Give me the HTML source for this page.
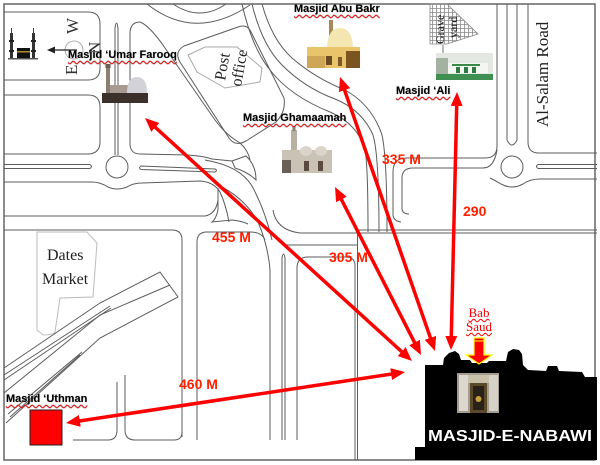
<!DOCTYPE html>
<html><head><meta charset="utf-8">
<style>
html,body{margin:0;padding:0;background:#fff;}
#w{position:relative;width:600px;height:465px;overflow:hidden;background:#fff;}
svg{position:absolute;left:0;top:0;}
.l{position:absolute;font:bold 11px "Liberation Sans",Arial,sans-serif;color:#000;line-height:13px;white-space:nowrap;text-decoration:underline wavy #e41010;text-decoration-thickness:1px;text-underline-offset:2px;text-shadow:0 0 1px #888;}
.b{position:absolute;font:13px "Liberation Serif",serif;color:#e00;line-height:14px;white-space:nowrap;text-decoration:underline wavy #e00;text-decoration-thickness:1px;width:40px;text-align:center;}
</style></head><body><div id="w">
<svg width="600" height="465" viewBox="0 0 600 465" xmlns="http://www.w3.org/2000/svg">
<defs>
<marker id="ah" viewBox="0 0 14 12" refX="4" refY="6" markerWidth="14" markerHeight="12" markerUnits="userSpaceOnUse" orient="auto-start-reverse"><path d="M0,0 L14,6 L0,12 Z" fill="#f00"/></marker>
<pattern id="hatch" width="4" height="4" patternUnits="userSpaceOnUse"><rect width="4" height="4" fill="#fff"/><path d="M0,0.5 H4 M0.5,0 V4" stroke="#8a8a8a" stroke-width="0.8"/></pattern>
</defs>
<rect width="600" height="465" fill="#fff"/>
<g fill="none" stroke="#5c5c5c" stroke-width="1">
<rect x="4" y="4" width="591" height="456" stroke="#666" stroke-width="1.5"/>
<path d="M4,12 H88 Q100,12 100,24 V68 Q100,80 88,80 H4"/>
<path d="M4,95 H88 Q100,95 100,107 V142 Q100,153 89,154 H4"/>
<path d="M4,164.5 H90 Q93,166.5 90,168.5 H4"/>
<circle cx="117" cy="167" r="11"/>
<path d="M115,155 V28 Q116.5,18 118,28 V155"/>
<path d="M4,182 H92 Q100,182 108,187 Q117,191 127,187 Q133,183 142,183 L200,181 Q214,182 220,192 Q226,205 229,222"/>
<path d="M141,166 L215,169 Q218,170.5 215,172 L141,169.5 Q138,167.8 141,166"/>
<path d="M140,22 Q130,22 130,34 V145 Q131,154 140,154 L187,155 Q203,156 212,159 L232,161"/>
<path d="M140,22 Q150,26 165,48 L215,120 Q226,135 240,143 Q248,150 250,160"/>
<path d="M147,4 Q195,42 250,5"/>
<path d="M173,4 Q200,22 226,4"/>
<path d="M180,62 L229,138 Q235,147 246,141 L276,122 Q286,112 284,98 L264,58 L250,30 Q246,24 238,27 L184,46 Q174,52 180,62 Z"/>
<path d="M188,55 L205,47 L237,47 L262,68 L260,82 L225,88 L197,72 Z" stroke="#aaa"/>
<path d="M242,4 Q252,48 270,70 Q290,96 330,112 Q358,124 365,150 Q368,165 368,232"/>
<path d="M252,4 Q262,45 282,65 Q305,88 335,99 Q362,110 373,135 Q379,155 379,232"/>
<path d="M262,4 Q272,40 292,58 Q315,78 345,90 Q372,105 382,135 Q387,158 387,232"/>
<path d="M232,161 L246,156 Q256,165 256,180 Q248,172 235,168 Z"/>
<path d="M218,190 L218,210 Q216,219 212,222 L232,220 Q242,221 248,224"/>
<path d="M218,185 Q245,198 258,222 Q268,245 270,270 V440"/>
<path d="M205,160 Q240,166 252,186 Q265,210 272,240"/>
<path d="M282,440 V258 Q283.5,250 285,258 V440"/>
<path d="M297,440 V268 Q297,257 308,257 H346 Q355,257 355,266 V460"/>
<path d="M357.5,233 V460"/>
<path d="M273,210 Q276,230 300,233 H597"/>
<path d="M357,230 H597"/>
<path d="M285,245 H357"/>
<path d="M197,440 V242 Q197,232 207,232 H250 Q262,232 265,240"/>
<path d="M4,216 H205 Q216,214 218,200 V188"/>
<path d="M4,230 H172 Q182,230 182,240 V437"/>
<path d="M73,440 H108 Q117,440 117,430 V382"/>
<path d="M125,375 V430 Q125,440 135,440 H174 Q182,440 182,432"/>
<path d="M37,232 H87 L97,243 L93,297 L60,298 L55,332 Q53,335 43,335 L37,330 Z" stroke="#bbb"/>
<path d="M4,368 L100,303 L160,272 L178,297 L100,338 L6,423"/>
<path d="M170,285 L100,315 L4,393"/>
<path d="M4,375 L110,306 M4,380 L111,308"/>
<path d="M8,414 L82,352 M10,417 L80,355"/>
<path d="M497,4 V146 Q497,158 485,158 H407 Q393,158 393,172 V214 Q393,221 401,222"/>
<path d="M497,150 Q494,168 483,168 H413 Q402,168 402,178 V208 Q402,214 409,214"/>
<path d="M507,4 V140 Q512,150 517,140 V4"/>
<path d="M528,4 V142 Q528,153 539,153 H597"/>
<circle cx="512" cy="167" r="11"/>
<path d="M597,164.5 H538 Q535,166.5 538,168.5 H597"/>
<path d="M597,179 H540 Q530,179 523,184 Q512,190 501,184 Q496,181 490,178"/>
<path d="M443,45 V63" stroke="#777"/>
</g>

<!-- Grave yard -->
<path d="M430,4 H447 L478,34 L447,44 H430 Z" fill="url(#hatch)" stroke="#888" stroke-width="0.8"/>
<text transform="translate(444,44) rotate(-90)" font-family="Liberation Serif, serif" font-size="12" fill="#111">Grave</text>
<text transform="translate(457,38) rotate(-90)" font-family="Liberation Serif, serif" font-size="12" fill="#111">yard</text>

<!-- Kaaba icon -->
<g>
<rect x="10" y="33" width="3" height="26" fill="#333"/>
<rect x="9" y="40" width="5" height="2" fill="#222"/>
<rect x="9" y="50" width="5" height="2" fill="#222"/>
<rect x="11" y="28" width="1" height="6" fill="#444"/>
<rect x="32" y="33" width="3" height="26" fill="#333"/>
<rect x="31" y="40" width="5" height="2" fill="#222"/>
<rect x="31" y="50" width="5" height="2" fill="#222"/>
<rect x="33" y="28" width="1" height="6" fill="#444"/>
<rect x="17" y="48" width="13" height="11" fill="#111"/>
<rect x="17" y="51" width="13" height="1.5" fill="#b08a30"/>
<rect x="8" y="58" width="30" height="1.5" fill="#555"/>
</g>
<!-- compass -->
<circle cx="74" cy="50" r="9" fill="none" stroke="#999" stroke-width="0.8"/>
<path d="M54,50 H77" stroke="#222" stroke-width="1.3"/>
<polygon points="47,50 55,46.5 55,53.5" fill="#222"/>
<text transform="translate(78,34) rotate(-90)" font-family="Liberation Serif, serif" font-size="17" fill="#333">W</text>
<text transform="translate(77,75) rotate(-90)" font-family="Liberation Serif, serif" font-size="17" fill="#333">E</text>
<text transform="translate(100,54) rotate(-90)" font-family="Liberation Serif, serif" font-size="17" fill="#333">N</text>

<!-- Post office / Dates Market / Al-Salam -->
<text transform="translate(225,81) rotate(-80)" font-family="Liberation Serif, serif" font-size="16" fill="#222">Post</text>
<text transform="translate(241,87) rotate(-80)" font-family="Liberation Serif, serif" font-size="16" fill="#222">office</text>
<text x="47" y="260" font-family="Liberation Serif, serif" font-size="16" fill="#222">Dates</text>
<text x="42" y="284" font-family="Liberation Serif, serif" font-size="16" fill="#222">Market</text>
<text transform="translate(548,127) rotate(-90)" font-family="Liberation Serif, serif" font-size="17" fill="#222">Al-Salam Road</text>

<!-- Umar Farooq image -->
<rect x="106" y="68" width="4" height="27" fill="#8c7f72"/>
<rect x="105.5" y="64" width="5" height="4" fill="#6a5e55"/>
<rect x="110" y="85" width="20" height="9" fill="#a89a90"/>
<path d="M127,93 Q127,77 137,77 Q147,77 147,93 Z" fill="#d2d2d8"/>
<rect x="102" y="93" width="46" height="10" fill="#3b302a"/>

<!-- Abu Bakr image -->
<rect x="329" y="20" width="4" height="22" fill="#a88858"/>
<path d="M327,50 Q327,28 340,28 Q353,28 353,50 Z" fill="#f3e6b0"/>
<rect x="307" y="47" width="53" height="21" fill="#e9c46a"/>
<rect x="307" y="56" width="18" height="12" fill="#cfa655"/>
<rect x="326" y="56" width="6" height="9" fill="#6a4a20"/>
<rect x="338" y="57" width="4" height="9" fill="#7a5a28"/>
<rect x="346" y="51" width="14" height="17" fill="#7a5520"/>

<!-- Ghamaamah image -->
<rect x="291" y="130" width="6" height="35" fill="#b8b0a2"/>
<rect x="292.5" y="126" width="3" height="5" fill="#8a8070"/>
<rect x="282" y="150" width="50" height="23" fill="#c9c2b5"/>
<ellipse cx="306" cy="151" rx="6" ry="5" fill="#dad4ca"/>
<ellipse cx="321" cy="151" rx="6" ry="5" fill="#dad4ca"/>
<rect x="282" y="160" width="9" height="13" fill="#6a6058"/>
<rect x="304" y="161" width="5" height="10" fill="#5a4a40"/>
<rect x="318" y="161" width="5" height="10" fill="#5a4a40"/>

<!-- Ali image -->
<rect x="436" y="53" width="57" height="27" fill="#e4e8e2"/>
<rect x="436" y="58" width="12" height="16" fill="#a4b2a2"/>
<rect x="448" y="63" width="40" height="10" fill="#f4f6f2"/>
<rect x="452" y="64" width="28" height="2" fill="#3a8a4a"/>
<rect x="456" y="67" width="4" height="6" fill="#2f7a40"/>
<rect x="464" y="67" width="4" height="6" fill="#2f7a40"/>
<rect x="472" y="67" width="4" height="6" fill="#2f7a40"/>
<rect x="436" y="74" width="57" height="6" fill="#3f8f52"/>

<!-- Nabawi -->
<polygon points="415,460 415,447 425,447 425,365 443,365 444,358 449,353 455,351 459,354 461,360 470,360 472,363 487,363 489,361 506,361 508,352 513,349 519,350 522,354 523,365 528,370 546,371 548,366 557,366 559,371 582,372 585,377 597,377 597,460" fill="#000"/>
<rect x="457" y="373" width="42" height="40" fill="#a49c8e"/>
<rect x="459" y="375" width="9" height="36" fill="#dcd8d0"/>
<rect x="489" y="375" width="9" height="36" fill="#d6d2c8"/>
<rect x="468" y="375" width="21" height="8" fill="#c8c0a8"/>
<rect x="470" y="383" width="17" height="30" fill="#5a4a2a"/>
<rect x="473" y="386" width="11" height="24" fill="#2a2218"/>
<circle cx="478.5" cy="399" r="3" fill="#c8a040"/>
<text x="428" y="441" font-family="Liberation Sans, Arial, sans-serif" font-weight="bold" font-size="16" fill="#fff" textLength="164" lengthAdjust="spacingAndGlyphs">MASJID-E-NABAWI</text>
<polygon points="474,338 484,338 484,355 492,355 479,364 466,355 474,355" fill="#f00" stroke="#ff0" stroke-width="1.2"/>
<path d="M474,341 H484" stroke="#ff0" stroke-width="1"/>

<!-- red square -->
<rect x="30" y="410" width="32" height="35" fill="#f00" stroke="#222" stroke-width="1"/>

<!-- red arrows -->
<g stroke="#f00" stroke-width="3.5" fill="none" marker-start="url(#ah)" marker-end="url(#ah)">
<line x1="152.4" y1="124.7" x2="404.6" y2="354.3"/>
<line x1="339.6" y1="195.9" x2="416.4" y2="346.1"/>
<line x1="343.3" y1="86.4" x2="431.7" y2="341.6"/>
<line x1="456.8" y1="102" x2="451.2" y2="340"/>
<line x1="75.9" y1="421.5" x2="395.1" y2="373.5"/>
</g>
<g font-family="Liberation Sans, Arial, sans-serif" font-weight="bold" font-size="14" fill="#ff2000">
<text x="212" y="242">455 M</text>
<text x="329" y="262">305 M</text>
<text x="382" y="164">335 M</text>
<text x="463" y="216">290</text>
<text x="179" y="389">460 M</text>
</g>
</svg>
<div class="l" style="left:68px;top:49px;">Masjid &#8216;Umar Farooq</div>
<div class="l" style="left:294px;top:3px;">Masjid Abu Bakr</div>
<div class="l" style="left:243px;top:112px;">Masjid Ghamaamah</div>
<div class="l" style="left:396px;top:85px;">Masjid &#8216;Ali</div>
<div class="l" style="left:6px;top:393px;">Masjid &#8216;Uthman</div>
<div class="b" style="left:459px;top:306px;">Bab</div>
<div class="b" style="left:459px;top:320px;">Saud</div>
</div></body></html>
